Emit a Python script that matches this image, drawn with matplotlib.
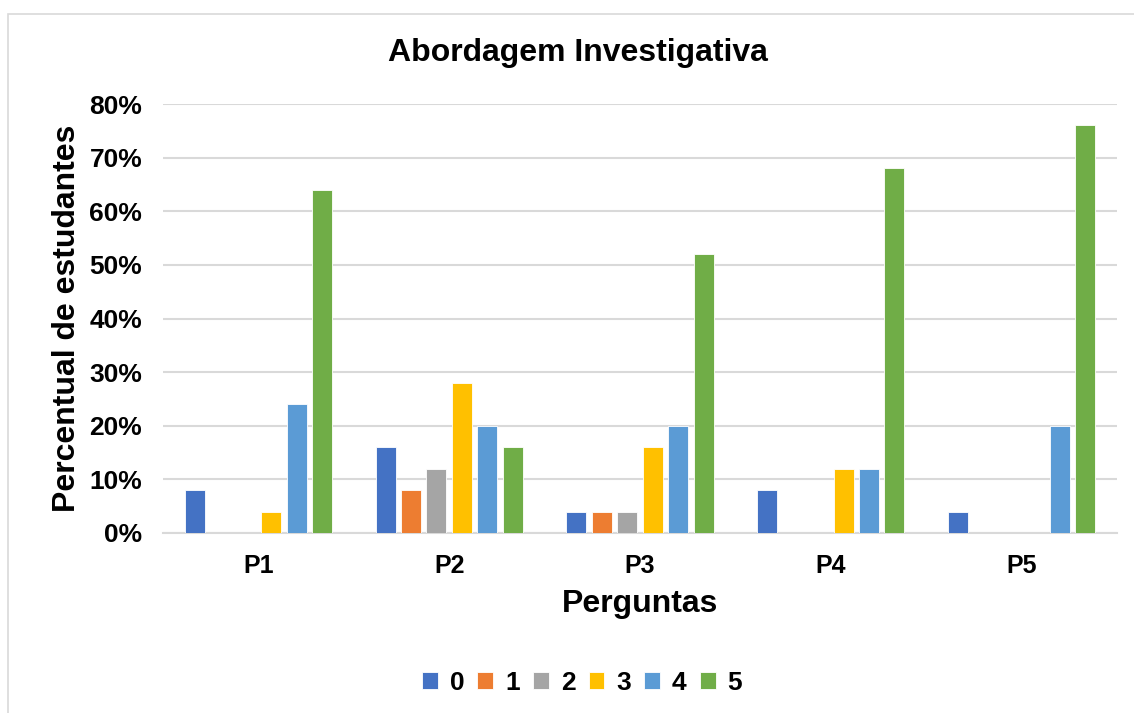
import matplotlib
matplotlib.use("Agg")
import matplotlib.pyplot as plt
from matplotlib.patches import Rectangle
from matplotlib.ticker import PercentFormatter
import numpy as np

plt.rcParams['font.family'] = ['Liberation Sans', 'DejaVu Sans']
plt.rcParams['font.weight'] = 'bold'

categories = ["P1", "P2", "P3", "P4", "P5"]
series_labels = ["0", "1", "2", "3", "4", "5"]
s0 = [8, 16, 4, 8, 4]
s1 = [0, 8, 4, 0, 0]
s2 = [0, 12, 4, 0, 0]
s3 = [4, 28, 16, 12, 0]
s4 = [24, 20, 20, 12, 20]
s5 = [64, 16, 52, 68, 76]
series = [s0, s1, s2, s3, s4, s5]
colors = ["#4472C4", "#ED7D31", "#A5A5A5", "#FFC000", "#5B9BD5", "#70AD47"]

fig = plt.figure(figsize=(11.34, 7.13), dpi=100)
fig.patches.append(Rectangle((8/1134, -0.05), 1.0, 1 - 14/713 + 0.05,
                             transform=fig.transFigure, fill=False,
                             edgecolor="#D9D9D9", linewidth=1.2))
ax = fig.add_axes([163/1134, 1 - 533/713, (1117-163)/1134, (533-104)/713])

x = np.arange(len(categories))
step = 0.1335
width = 0.105
for i, (vals, c, lab) in enumerate(zip(series, colors, series_labels)):
    ax.bar(x + (i - 2.5) * step, vals, width=width, color=c, label=lab,
           edgecolor="white", linewidth=0.6, zorder=3)

ax.set_xlim(-0.5, len(categories) - 0.5)
ax.set_ylim(0, 80)
ax.set_yticks(np.arange(0, 81, 10))
ax.yaxis.set_major_formatter(PercentFormatter(decimals=0))
ax.grid(axis='y', color="#D9D9D9", linewidth=1.5, zorder=0)
ax.set_xticks(x)
ax.set_xticklabels(categories)
for s in ["top", "right", "left"]:
    ax.spines[s].set_visible(False)
ax.spines["bottom"].set_color("#D9D9D9")
ax.spines["bottom"].set_linewidth(1.5)
ax.tick_params(axis='both', length=0)
ax.tick_params(axis='y', pad=15, labelsize=19)
ax.tick_params(axis='x', pad=15, labelsize=18)
for lbl in ax.get_xticklabels() + ax.get_yticklabels():
    lbl.set_fontweight('bold')

ax.set_xlabel("Perguntas", fontsize=23, fontweight='bold', labelpad=8)
ax.set_ylabel("Percentual de estudantes", fontsize=23, fontweight='bold', labelpad=5)
fig.text(578/1134, 1 - 53/713, "Abordagem Investigativa", ha='center', va='center',
         fontsize=23, fontweight='bold')

fig.legend(loc='center', bbox_to_anchor=(582/1134, 1 - 683/713), ncol=6,
           frameon=False, handlelength=0.6, handleheight=0.6,
           handletextpad=0.45, columnspacing=0.5, prop={'weight': 'bold', 'size': 19})

fig.savefig("out.png", dpi=100)
